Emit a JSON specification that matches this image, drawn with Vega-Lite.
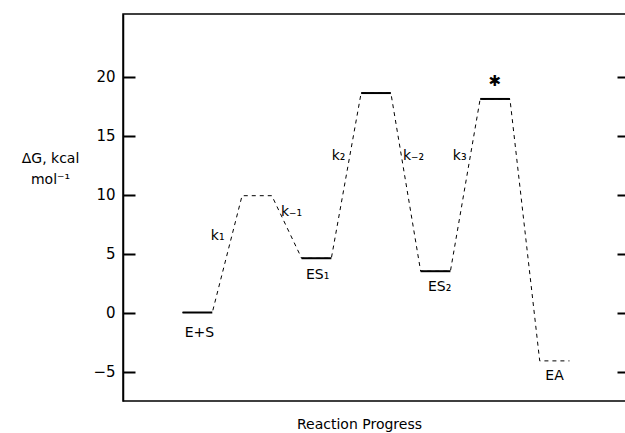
{
  "$schema": "https://vega.github.io/schema/vega-lite/v6.json",
  "width": 506,
  "height": 387,
  "autosize": "none",
  "padding": {"left": 123, "top": 14, "right": 0, "bottom": 32},
  "background": "white",
  "config": {
    "view": {"stroke": "black", "strokeWidth": 1.5},
    "font": "DejaVu Sans",
    "axis": {"grid": false, "domainColor": "black", "tickColor": "black", "labelColor": "black", "titleColor": "black", "labelFont": "DejaVu Sans", "titleFont": "DejaVu Sans", "titleFontWeight": "normal"}
  },
  "datasets": {
    "path": [
      {"x": 0, "y": 0}, {"x": 1, "y": 0},
      {"x": 2, "y": 9.9}, {"x": 3, "y": 9.9},
      {"x": 4, "y": 4.6}, {"x": 5, "y": 4.6},
      {"x": 6, "y": 18.6}, {"x": 7, "y": 18.6},
      {"x": 8, "y": 3.5}, {"x": 9, "y": 3.5},
      {"x": 10, "y": 18.1}, {"x": 11, "y": 18.1},
      {"x": 12, "y": -4.1}, {"x": 13, "y": -4.1}
    ],
    "levels": [
      {"state": "E+S", "x": 0, "x2": 1, "y": 0},
      {"state": "ES1", "x": 4, "x2": 5, "y": 4.6},
      {"state": "TS2", "x": 6, "x2": 7, "y": 18.6},
      {"state": "ES2", "x": 8, "x2": 9, "y": 3.5},
      {"state": "TS3", "x": 10, "x2": 11, "y": 18.1}
    ],
    "labels": [
      {"text": "k₁", "x": 1.18, "y": 6.5, "size": 14},
      {"text": "k₋₁", "x": 3.66, "y": 8.5, "size": 14},
      {"text": "k₂", "x": 5.24, "y": 13.3, "size": 14},
      {"text": "k₋₂", "x": 7.76, "y": 13.3, "size": 14},
      {"text": "k₃", "x": 9.31, "y": 13.3, "size": 14},
      {"text": "E+S", "x": 0.57, "y": -1.75, "size": 14},
      {"text": "ES₁", "x": 4.54, "y": 3.16, "size": 14},
      {"text": "ES₂", "x": 8.64, "y": 2.14, "size": 14},
      {"text": "EA", "x": 12.5, "y": -5.4, "size": 14},
      {"text": "✱", "x": 10.49, "y": 19.6, "size": 15}
    ]
  },
  "layer": [
    {
      "data": {"name": "path"},
      "mark": {"type": "line", "color": "black", "strokeWidth": 1, "strokeDash": [4, 4]},
      "encoding": {
        "x": {"field": "x", "type": "quantitative", "scale": {"domain": [-2, 15], "nice": false, "zero": false},
          "axis": {"title": "Reaction Progress", "labels": false, "ticks": false, "domain": false, "titleFontSize": 14, "titleX": 236, "titleY": 27, "titleAlign": "center", "titleBaseline": "alphabetic", "titleAnchor": null}},
        "y": {"field": "y", "type": "quantitative", "scale": {"domain": [-7.5, 25.3], "nice": false, "zero": false},
          "axis": {"orient": "left", "values": [-5, 0, 5, 10, 15, 20], "tickSize": -12, "tickWidth": 2, "domainWidth": 1.5, "labelFontSize": 15, "labelPadding": 20,
            "title": ["ΔG, kcal", "mol⁻¹"], "titleAngle": 0, "titleFontSize": 14, "titleAlign": "center", "titleBaseline": "alphabetic", "titleX": -73, "titleY": 148, "titleLineHeight": 21}}
      }
    },
    {
      "data": {"name": "levels"},
      "mark": {"type": "rule", "color": "black", "strokeWidth": 2},
      "encoding": {
        "x": {"field": "x", "type": "quantitative"},
        "x2": {"field": "x2"},
        "y": {"field": "y", "type": "quantitative",
          "axis": {"orient": "right", "values": [-5, 0, 5, 10, 15, 20], "tickSize": -12, "tickWidth": 2, "labels": false, "domain": false, "title": null}}
      }
    },
    {
      "data": {"name": "labels"},
      "mark": {"type": "text", "color": "black", "align": "center", "baseline": "middle", "font": "DejaVu Sans"},
      "encoding": {
        "x": {"field": "x", "type": "quantitative"},
        "y": {"field": "y", "type": "quantitative", "axis": null},
        "text": {"field": "text"},
        "size": {"field": "size", "type": "quantitative", "scale": null}
      }
    }
  ],
  "resolve": {"axis": {"y": "independent"}}
}
